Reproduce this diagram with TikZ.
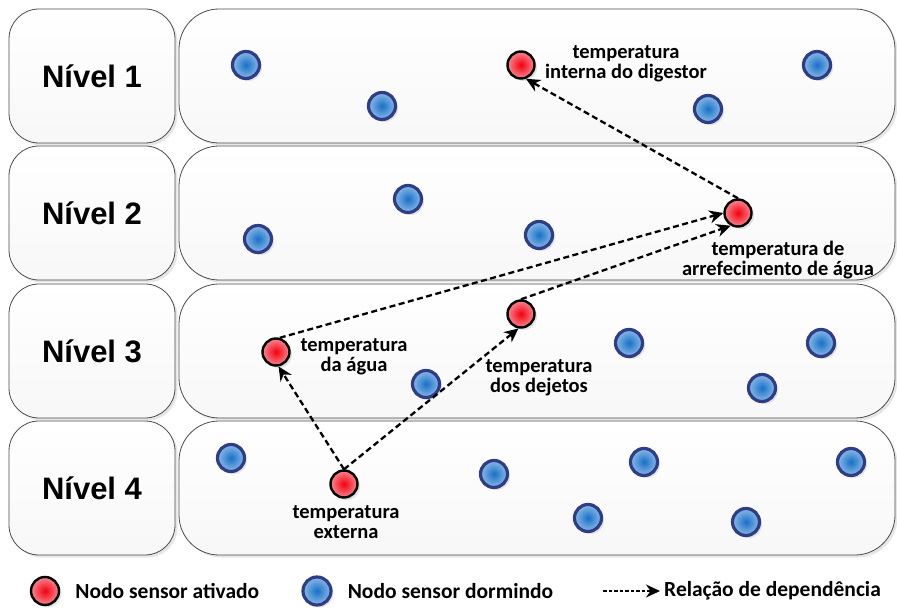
\documentclass[tikz,border=0pt]{standalone}
\usepackage{fontspec}
\setmainfont{Carlito}
\newfontfamily\nivelfont{Liberation Sans}
\usepackage{xcolor}
\usetikzlibrary{positioning,arrows.meta,shadows,calc}

\definecolor{navy}{HTML}{2E3D85}
\definecolor{azulC}{HTML}{1870C8}
\definecolor{azulO}{HTML}{CFE6F8}
\definecolor{vermC}{HTML}{F2000F}
\definecolor{vermO}{HTML}{FFD6DC}
\pgfdeclareradialshading{azulsh}{\pgfpoint{0bp}{0bp}}{color(0bp)=(azulC); color(40bp)=(azulO); color(50bp)=(azulO); color(100bp)=(azulO)}
\pgfdeclareradialshading{vermsh}{\pgfpoint{0bp}{0bp}}{color(0bp)=(vermC); color(40bp)=(vermO); color(50bp)=(vermO); color(100bp)=(vermO)}

\tikzset{
  sombra/.style={drop shadow={shadow xshift=2.5pt,shadow yshift=-2.5pt,opacity=0.2}},
  nivel/.style={draw=black!70, line width=0.8pt, rounded corners=30pt, top color=white, bottom color=black!3, sombra},
  campo/.style={draw=black!70, line width=0.8pt, rounded corners=40pt, top color=white, bottom color=black!3, sombra},
  rotulo/.style={font=\nivelfont\bfseries\fontsize{31}{36}\selectfont},
  dormindo/.style={circle, draw=navy, line width=3.2pt, minimum size=27pt, inner sep=0pt, shading=azulsh, sombra},
  ativado/.style={circle, draw=black, line width=2.4pt, minimum size=27pt, inner sep=0pt, shading=vermsh, sombra},
  sensor/.style={font=\bfseries\fontsize{20.5}{20}\selectfont, align=center, inner sep=0pt},
  legenda/.style={font=\bfseries\fontsize{21.5}{24}\selectfont, inner sep=0pt},
  dep/.style={-{Stealth[length=14pt,width=13pt]}, line width=2.3pt, dash pattern=on 6pt off 3.5pt}
}

\begin{document}
\begin{tikzpicture}[x=1pt,y=-1pt]
  \useasboundingbox (0,0) rectangle (897,609);

  % Levels
  \foreach \t/\n in {9/1, 146/2, 284/3, 421/4} {
    \path[nivel] (9,\t) rectangle (175,\t+134);
    \path[campo] (179,\t) rectangle (895,\t+134);
    \node[rotulo] (nivel\n) at (92,\t+67) {Nível \n};
  }

  % Sleeping sensor nodes
  \foreach \x/\y [count=\i] in {246/65, 382/106, 708/109, 817/65,
                                408/199, 258/239, 539/235,
                                426/384, 629/343, 821/343, 762/388,
                                231/458, 494/474, 644/462, 851/462, 588/518, 746/522} {
    \node[dormindo] (b\i) at (\x,\y) {};
  }

  % Activated sensor nodes
  \node[ativado] (tdig) at (521,65) {};
  \node[ativado] (tarref) at (738,213) {};
  \node[ativado] (tagua) at (276,352) {};
  \node[ativado] (tdej) at (521,314) {};
  \node[ativado] (texterna) at (344,484) {};

  \node[sensor] (ldig) at (626,64) {temperatura\\interna do digestor};
  \node[sensor] (larref) at (778,260) {temperatura de\\arrefecimento de água};
  \node[sensor] (lagua) at (354,357) {temperatura\\da água};
  \node[sensor] (ldej) at (539,378) {temperatura\\dos dejetos};
  \node[sensor] (lext) at (346,522) {temperatura\\externa};

  % Dependencies
  \draw[dep] (tarref.north) -- (tdig.-70);
  \draw[dep] (tagua.75) -- (tarref.west);
  \draw[dep] (tdej.north) -- (tarref.240);
  \draw[dep] (texterna.north) -- (tagua.-80);
  \draw[dep] (texterna.north) -- (tdej.-100);

  % Legend
  \node[ativado, minimum size=28pt] (legA) at (45,591) {};
  \node[legenda, right=15pt of legA] (legAt) {Nodo sensor ativado};
  \node[dormindo, minimum size=28pt] (legD) at (317,591) {};
  \node[legenda, right=15pt of legD] (legDt) {Nodo sensor dormindo};
  \coordinate (setaI) at (603,591);
  \coordinate (setaF) at (660,591);
  \draw[dep, line width=1.6pt, dash pattern=on 3.5pt off 2pt] (setaI) -- (setaF);
  \node[legenda, right=4pt of setaF] (legSt) {Relação de dependência};
\end{tikzpicture}
\end{document}
